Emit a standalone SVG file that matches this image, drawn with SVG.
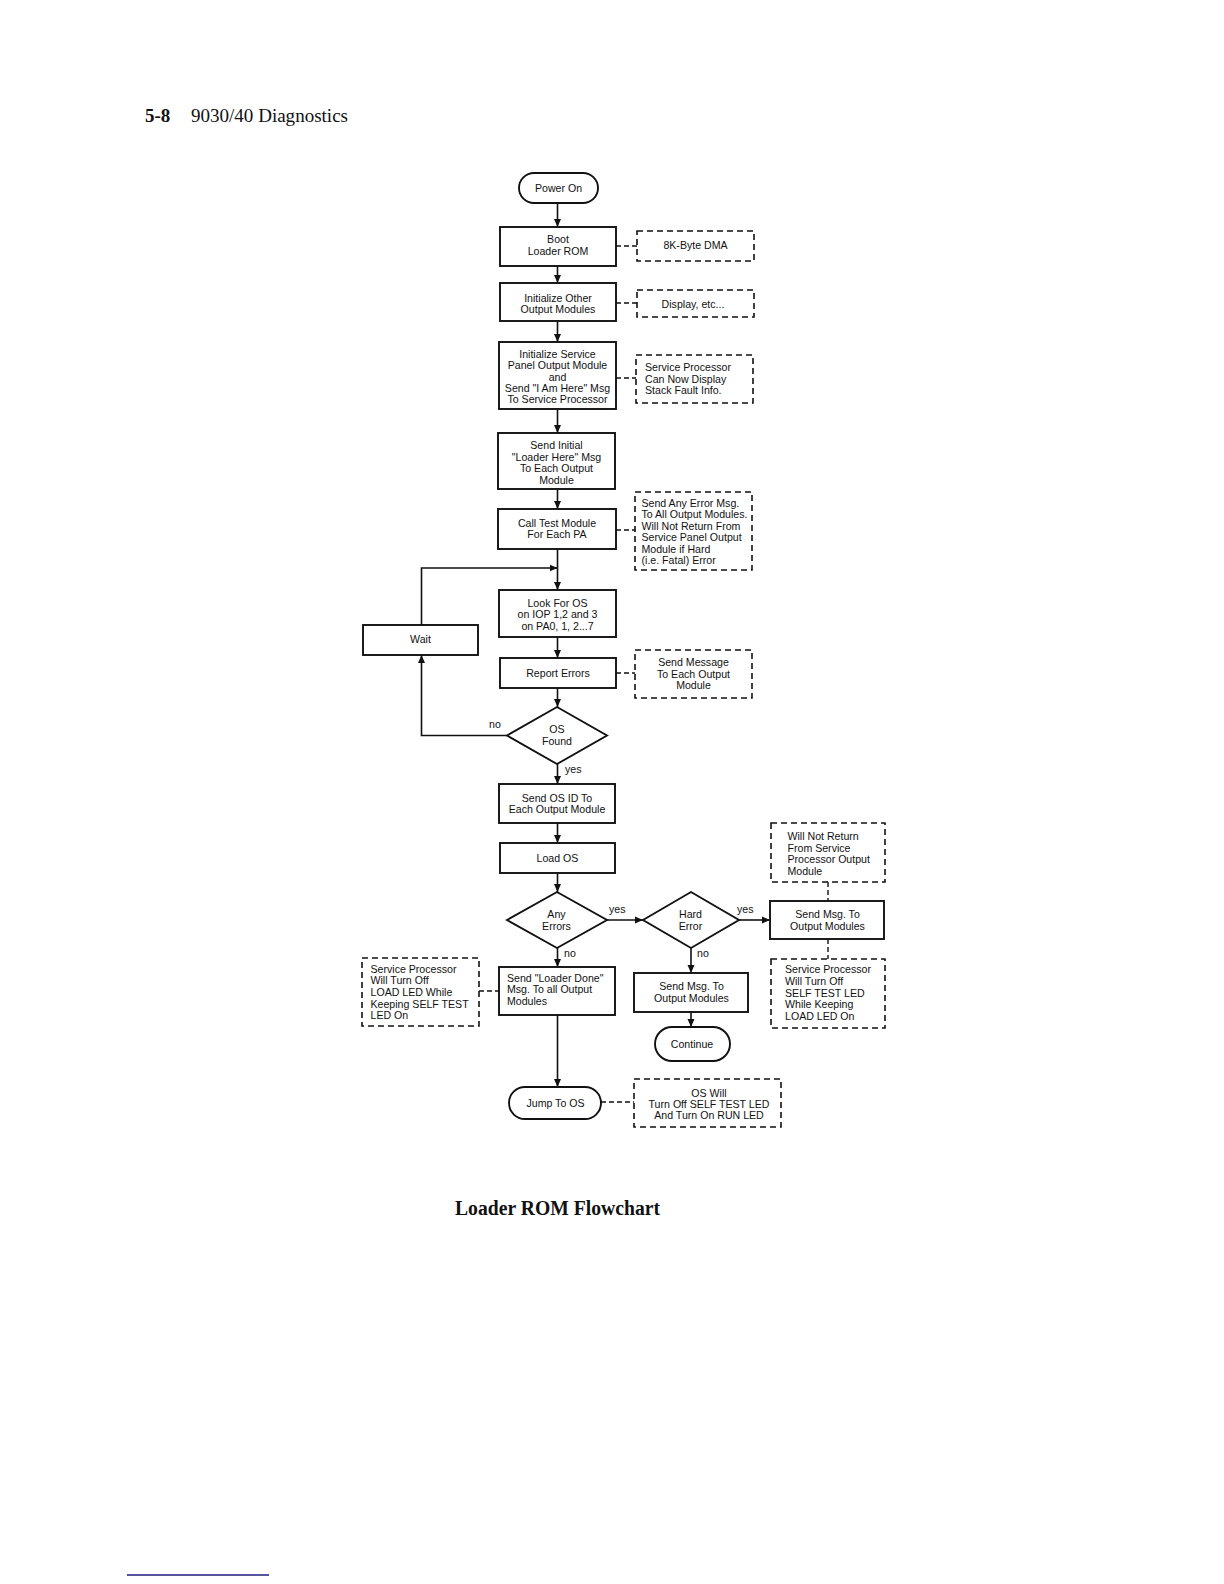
<svg xmlns="http://www.w3.org/2000/svg" width="1224" height="1584" viewBox="0 0 1224 1584">
<style>
.box{fill:#fff;stroke:#111;stroke-width:1.9}
.dbox{fill:none;stroke:#111;stroke-width:1.6;stroke-dasharray:6 4}
.ln{fill:none;stroke:#111;stroke-width:1.6}
.dl{fill:none;stroke:#111;stroke-width:1.4;stroke-dasharray:5 3}
.t{font-family:"Liberation Sans",Arial,Helvetica,sans-serif;font-size:10.6px;fill:#111}
.c{text-anchor:middle}
.hd{font-family:"Liberation Serif","Times New Roman",serif;fill:#111}
</style>
<defs>
<marker id="ah" markerWidth="9" markerHeight="9" refX="8" refY="4.5" orient="auto" markerUnits="userSpaceOnUse">
<path d="M0,1 L8,4.5 L0,8 Z" fill="#111"/>
</marker>
</defs>
<rect width="1224" height="1584" fill="#fff"/>

<g id="header">
<text class="hd" x="145" y="122" font-size="19" font-weight="bold">5-8</text>
<text class="hd" x="191" y="122" font-size="19" textLength="157" lengthAdjust="spacingAndGlyphs">9030/40 Diagnostics</text>
</g>

<g id="connectors">
<line class="ln" x1="557.5" y1="203" x2="557.5" y2="227" marker-end="url(#ah)"/>
<line class="ln" x1="557.5" y1="266" x2="557.5" y2="283" marker-end="url(#ah)"/>
<line class="ln" x1="557.5" y1="321" x2="557.5" y2="342" marker-end="url(#ah)"/>
<line class="ln" x1="557.5" y1="409" x2="557.5" y2="433" marker-end="url(#ah)"/>
<line class="ln" x1="557.5" y1="489" x2="557.5" y2="509" marker-end="url(#ah)"/>
<line class="ln" x1="557.5" y1="549" x2="557.5" y2="590" marker-end="url(#ah)"/>
<line class="ln" x1="557.5" y1="637" x2="557.5" y2="658" marker-end="url(#ah)"/>
<line class="ln" x1="557.5" y1="688" x2="557.5" y2="707" marker-end="url(#ah)"/>
<line class="ln" x1="557.5" y1="764" x2="557.5" y2="784" marker-end="url(#ah)"/>
<line class="ln" x1="557.5" y1="823" x2="557.5" y2="843" marker-end="url(#ah)"/>
<line class="ln" x1="557.5" y1="873" x2="557.5" y2="892" marker-end="url(#ah)"/>
<line class="ln" x1="557.5" y1="948" x2="557.5" y2="967" marker-end="url(#ah)"/>
<line class="ln" x1="557.5" y1="1015" x2="557.5" y2="1087" marker-end="url(#ah)"/>
<line class="ln" x1="607" y1="920" x2="643" y2="920" marker-end="url(#ah)"/>
<line class="ln" x1="739" y1="920" x2="770" y2="920" marker-end="url(#ah)"/>
<line class="ln" x1="691" y1="948" x2="691" y2="973" marker-end="url(#ah)"/>
<line class="ln" x1="691" y1="1012" x2="691" y2="1027" marker-end="url(#ah)"/>
<polyline class="ln" points="507,735.5 421.5,735.5 421.5,655" marker-end="url(#ah)"/>
<polyline class="ln" points="421.5,625 421.5,568 557.5,568" marker-end="url(#ah)"/>
<line class="dl" x1="616" y1="246" x2="637" y2="246"/>
<line class="dl" x1="616" y1="303" x2="637" y2="303"/>
<line class="dl" x1="616" y1="378" x2="636" y2="378"/>
<line class="dl" x1="616" y1="530" x2="635" y2="530"/>
<line class="dl" x1="616" y1="673" x2="635" y2="673"/>
<line class="dl" x1="479" y1="991" x2="499" y2="991"/>
<line class="dl" x1="601" y1="1102" x2="634" y2="1102"/>
<line class="dl" x1="828" y1="882" x2="828" y2="901"/>
<line class="dl" x1="828" y1="939" x2="828" y2="959"/>
</g>

<g id="power-on">
<rect class="box" x="519" y="173" width="79" height="30" rx="15"/>
<text class="t c" x="558.5" y="192">Power On</text>
</g>
<g id="boot-loader-rom">
<rect class="box" x="500" y="227" width="116" height="39"/>
<text class="t c" x="558" y="243">Boot</text>
<text class="t c" x="558" y="255">Loader ROM</text>
</g>
<g id="note-dma">
<rect class="dbox" x="637" y="231" width="117" height="30"/>
<text class="t c" x="695.5" y="249">8K-Byte DMA</text>
</g>
<g id="init-other">
<rect class="box" x="500" y="283" width="116" height="38"/>
<text class="t c" x="558" y="301.5">Initialize Other</text>
<text class="t c" x="558" y="313">Output Modules</text>
</g>
<g id="note-display">
<rect class="dbox" x="637" y="290" width="117" height="27"/>
<text class="t c" x="693" y="308">Display, etc...</text>
</g>
<g id="init-service">
<rect class="box" x="499" y="342" width="117" height="67"/>
<text class="t c" x="557.5" y="358">Initialize Service</text>
<text class="t c" x="557.5" y="369.3">Panel Output Module</text>
<text class="t c" x="557.5" y="380.6">and</text>
<text class="t c" x="557.5" y="392">Send "I Am Here" Msg</text>
<text class="t c" x="557.5" y="403.3">To Service Processor</text>
</g>
<g id="note-sp-display">
<rect class="dbox" x="636" y="355" width="117" height="48"/>
<text class="t" x="645" y="371">Service Processor</text>
<text class="t" x="645" y="382.5">Can Now Display</text>
<text class="t" x="645" y="394">Stack Fault Info.</text>
</g>
<g id="send-initial">
<rect class="box" x="498" y="433" width="117" height="56"/>
<text class="t c" x="556.5" y="449">Send Initial</text>
<text class="t c" x="556.5" y="460.7">"Loader Here" Msg</text>
<text class="t c" x="556.5" y="472.4">To Each Output</text>
<text class="t c" x="556.5" y="484">Module</text>
</g>
<g id="call-test">
<rect class="box" x="498" y="509" width="118" height="40"/>
<text class="t c" x="557" y="526.5">Call Test Module</text>
<text class="t c" x="557" y="538">For Each PA</text>
</g>
<g id="note-error">
<rect class="dbox" x="635" y="492" width="117" height="78"/>
<text class="t" x="641.5" y="506.5">Send Any Error Msg.</text>
<text class="t" x="641.5" y="518">To All Output Modules.</text>
<text class="t" x="641.5" y="529.5">Will Not Return From</text>
<text class="t" x="641.5" y="541">Service Panel Output</text>
<text class="t" x="641.5" y="552.5">Module if Hard</text>
<text class="t" x="641.5" y="564">(i.e. Fatal) Error</text>
</g>
<g id="look-for-os">
<rect class="box" x="499" y="590" width="117" height="47"/>
<text class="t c" x="557.5" y="606.5">Look For OS</text>
<text class="t c" x="557.5" y="618.2">on IOP 1,2 and 3</text>
<text class="t c" x="557.5" y="630">on PA0, 1, 2...7</text>
</g>
<g id="wait">
<rect class="box" x="363" y="625" width="115" height="30"/>
<text class="t c" x="420.5" y="643">Wait</text>
</g>
<g id="report-errors">
<rect class="box" x="500" y="658" width="116" height="30"/>
<text class="t c" x="558" y="676.5">Report Errors</text>
</g>
<g id="note-send-message">
<rect class="dbox" x="635" y="650" width="117" height="48"/>
<text class="t c" x="693.5" y="666">Send Message</text>
<text class="t c" x="693.5" y="677.5">To Each Output</text>
<text class="t c" x="693.5" y="689">Module</text>
</g>
<g id="os-found">
<polygon class="box" points="507,735.5 557,707 607,735.5 557,764"/>
<text class="t c" x="557" y="733">OS</text>
<text class="t c" x="557" y="745">Found</text>
<text class="t" x="489" y="728">no</text>
<text class="t" x="565" y="773">yes</text>
</g>
<g id="send-os-id">
<rect class="box" x="499" y="784" width="116" height="39"/>
<text class="t c" x="557" y="801.5">Send OS ID To</text>
<text class="t c" x="557" y="813.2">Each Output Module</text>
</g>
<g id="load-os">
<rect class="box" x="500" y="843" width="115" height="30"/>
<text class="t c" x="557.5" y="861.5">Load OS</text>
</g>
<g id="any-errors">
<polygon class="box" points="507,920 557,892 607,920 557,948"/>
<text class="t c" x="556.5" y="918">Any</text>
<text class="t c" x="556.5" y="930">Errors</text>
<text class="t" x="609" y="913">yes</text>
<text class="t" x="564" y="957">no</text>
</g>
<g id="hard-error">
<polygon class="box" points="643,920 691,892 739,920 691,948"/>
<text class="t c" x="690.5" y="918">Hard</text>
<text class="t c" x="690.5" y="930">Error</text>
<text class="t" x="737" y="913">yes</text>
<text class="t" x="697" y="957">no</text>
</g>
<g id="note-will-not-return">
<rect class="dbox" x="771" y="823" width="114" height="59"/>
<text class="t" x="787.5" y="840">Will Not Return</text>
<text class="t" x="787.5" y="851.7">From Service</text>
<text class="t" x="787.5" y="863.3">Processor Output</text>
<text class="t" x="787.5" y="875">Module</text>
</g>
<g id="send-msg-hard">
<rect class="box" x="770" y="901" width="114" height="38"/>
<text class="t c" x="827.5" y="918">Send Msg. To</text>
<text class="t c" x="827.5" y="930">Output Modules</text>
</g>
<g id="note-sp-self-test">
<rect class="dbox" x="771" y="959" width="114" height="69"/>
<text class="t" x="785" y="973.3">Service Processor</text>
<text class="t" x="785" y="985">Will Turn Off</text>
<text class="t" x="785" y="996.7">SELF TEST LED</text>
<text class="t" x="785" y="1008.3">While Keeping</text>
<text class="t" x="785" y="1020">LOAD LED On</text>
</g>
<g id="send-loader-done">
<rect class="box" x="499" y="967" width="116" height="48"/>
<text class="t" x="507" y="981.5">Send "Loader Done"</text>
<text class="t" x="507" y="993.2">Msg. To all Output</text>
<text class="t" x="507" y="1005">Modules</text>
</g>
<g id="note-sp-load">
<rect class="dbox" x="362" y="958" width="117" height="68"/>
<text class="t" x="370.5" y="972.7">Service Processor</text>
<text class="t" x="370.5" y="984.3">Will Turn Off</text>
<text class="t" x="370.5" y="996">LOAD LED While</text>
<text class="t" x="370.5" y="1007.6">Keeping SELF TEST</text>
<text class="t" x="370.5" y="1019.3">LED On</text>
</g>
<g id="send-msg-soft">
<rect class="box" x="634" y="973" width="114" height="39"/>
<text class="t c" x="691.5" y="990">Send Msg. To</text>
<text class="t c" x="691.5" y="1001.7">Output Modules</text>
</g>
<g id="continue">
<rect class="box" x="655" y="1027" width="75" height="34" rx="17"/>
<text class="t c" x="692" y="1048">Continue</text>
</g>
<g id="jump-to-os">
<rect class="box" x="509" y="1087" width="92" height="32" rx="16"/>
<text class="t c" x="555.5" y="1106.5">Jump To OS</text>
</g>
<g id="note-os-will">
<rect class="dbox" x="634" y="1079" width="147" height="48"/>
<text class="t c" x="709" y="1096.5">OS Will</text>
<text class="t c" x="709" y="1107.5">Turn Off SELF TEST LED</text>
<text class="t c" x="709" y="1118.5">And Turn On RUN LED</text>
</g>

<g id="caption">
<text class="hd" x="455" y="1215" font-size="20" font-weight="bold" textLength="205" lengthAdjust="spacingAndGlyphs">Loader ROM Flowchart</text>
</g>
<line x1="127" y1="1575" x2="269" y2="1575" stroke="#1c1c80" stroke-width="1.5"/>
</svg>
